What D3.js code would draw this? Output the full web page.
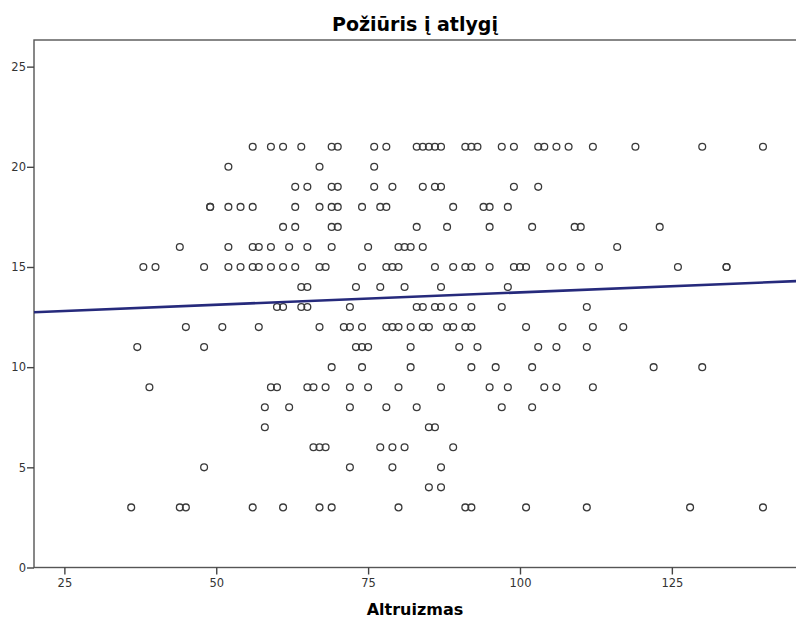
<!DOCTYPE html>
<html>
<head>
<meta charset="utf-8">
<script src="https://cdn.jsdelivr.net/npm/d3@7"></script>
<style>
  html, body { margin: 0; padding: 0; background: #fff; }
  svg { display: block; }
</style>
</head>
<body>
<div id="chart"></div>
<script>
// Požiūris į atlygį (y) – kiekvienam lygiui Altruizmas (x) reikšmės
const poziurisLevels = [21, 20, 19, 18, 17, 16, 15, 14, 13, 12, 11, 10, 9, 8, 7, 6, 5, 4, 3];
const altruizmasAtLevel = [
    [56, 59, 61, 64, 69, 70, 76, 78, 83, 84, 85, 86, 87, 91, 92, 93, 97, 99, 103, 104, 106, 108, 112, 119, 130, 140],
    [52, 67, 76],
    [63, 65, 69, 70, 76, 79, 84, 86, 87, 99, 103],
    [49, 49, 52, 54, 56, 63, 67, 69, 70, 74, 77, 78, 89, 94, 95, 98],
    [61, 63, 69, 70, 83, 88, 95, 102, 109, 110, 123],
    [44, 52, 56, 57, 59, 62, 65, 69, 75, 80, 81, 82, 84, 116],
    [38, 40, 48, 52, 54, 56, 57, 59, 61, 63, 67, 68, 74, 78, 79, 80, 86, 89, 91, 92, 95, 99, 100, 101, 105, 107, 110, 113, 126, 134, 134],
    [64, 65, 73, 77, 81, 87, 98],
    [60, 61, 64, 65, 72, 83, 84, 86, 87, 89, 92, 97, 111],
    [45, 51, 57, 67, 71, 72, 74, 78, 79, 80, 82, 84, 85, 88, 89, 91, 92, 101, 107, 112, 117],
    [37, 48, 73, 74, 75, 82, 90, 93, 103, 106, 111],
    [69, 74, 82, 92, 96, 102, 122, 130],
    [39, 59, 60, 65, 66, 68, 72, 75, 80, 87, 95, 98, 104, 106, 112],
    [58, 62, 72, 78, 83, 97, 102],
    [58, 85, 86],
    [66, 67, 68, 77, 79, 81, 89],
    [48, 72, 79, 87],
    [85, 87],
    [36, 44, 45, 56, 61, 67, 69, 80, 91, 92, 101, 111, 128, 140]
];
const xTicks = [25, 50, 75, 100, 125];
const yTicks = [0, 5, 10, 15, 20, 25];

const chartTitle = "Požiūris į atlygį";
const xTitle = "Altruizmas";

// Sudedam taškus
const points = [];
poziurisLevels.forEach((lvl, i) => {
    altruizmasAtLevel[i].forEach(a => points.push({ x: a, y: lvl }));
});

const width = 796;
const height = 620;
const margin = { top: 40, right: -1, bottom: 52.5, left: 34 };

const svg = d3.select('#chart')
    .append('svg')
    .attr('width', width)
    .attr('height', height);

const x = d3.scaleLinear()
    .domain([20, 145.6])
    .range([margin.left, width - margin.right]);

const y = d3.scaleLinear()
    .domain([0, 26.33])
    .range([height - margin.bottom, margin.top]);

// Rėmelis
svg.append('rect')
    .attr('x', margin.left)
    .attr('y', margin.top)
    .attr('width', width - margin.right - margin.left)
    .attr('height', height - margin.bottom - margin.top)
    .attr('fill', 'none')
    .attr('stroke', '#555')
    .attr('stroke-width', 1.4);

// Ašys
const xAxis = svg.append('g')
    .attr('transform', `translate(0, ${height - margin.bottom})`)
    .call(d3.axisBottom(x).tickValues(xTicks).tickSize(7).tickPadding(4));

const yAxis = svg.append('g')
    .attr('transform', `translate(${margin.left}, 0)`)
    .call(d3.axisLeft(y).tickValues(yTicks).tickSize(7).tickPadding(1));

[xAxis, yAxis].forEach(ax => {
    ax.select('.domain').remove();
    ax.selectAll('line').attr('stroke', '#444').attr('stroke-width', 1.4);
    ax.selectAll('text')
        .attr('fill', '#333')
        .style('font-family', '"DejaVu Sans", sans-serif')
        .style('font-size', '11.5px');
});

// Taškai
svg.append('g')
    .selectAll('circle')
    .data(points)
    .enter()
    .append('circle')
    .attr('cx', d => x(d.x))
    .attr('cy', d => y(d.y))
    .attr('r', 3.4)
    .attr('fill', 'none')
    .attr('stroke', '#3a3a3a')
    .attr('stroke-width', 1.3);

// Tiesinė regresija (mažiausių kvadratų)
const mx = d3.mean(points, d => d.x);
const my = d3.mean(points, d => d.y);
const slope = d3.sum(points, d => (d.x - mx) * (d.y - my)) / d3.sum(points, d => (d.x - mx) ** 2);
const intercept = my - slope * mx;
const [x0, x1] = x.domain();

svg.append('line')
    .attr('x1', x(x0))
    .attr('y1', y(intercept + slope * x0))
    .attr('x2', x(x1))
    .attr('y2', y(intercept + slope * x1))
    .attr('stroke', '#262a7c')
    .attr('stroke-width', 2.6);

// Pavadinimai
svg.append('text')
    .attr('x', (margin.left + width) / 2)
    .attr('y', 31)
    .attr('text-anchor', 'middle')
    .style('font-family', '"DejaVu Sans", sans-serif')
    .style('font-weight', 'bold')
    .style('font-size', '19px')
    .text(chartTitle);

svg.append('text')
    .attr('x', (margin.left + width) / 2)
    .attr('y', 615)
    .attr('text-anchor', 'middle')
    .style('font-family', '"DejaVu Sans", sans-serif')
    .style('font-weight', 'bold')
    .style('font-size', '16px')
    .text(xTitle);
</script>
</body>
</html>
